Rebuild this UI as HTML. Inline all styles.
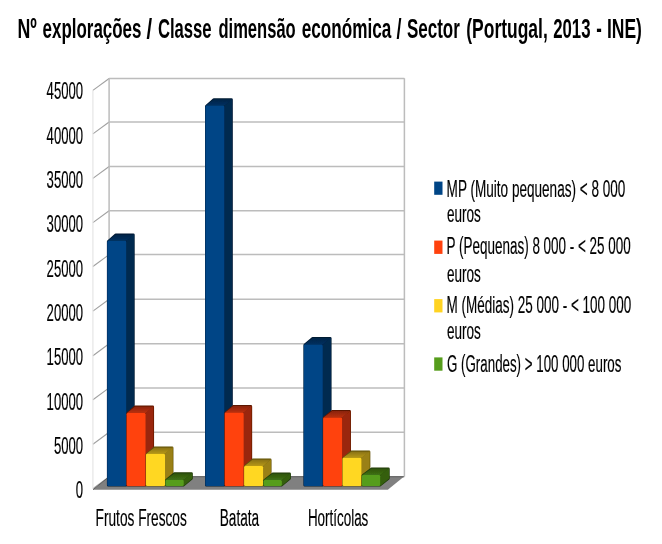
<!DOCTYPE html><html><head><meta charset="utf-8"><title>chart</title><style>html,body{margin:0;padding:0;background:#fff}svg{display:block}</style></head><body><svg width="662" height="544" viewBox="0 0 662 544">
<defs><linearGradient id="tb" x1="0" y1="1" x2="0" y2="0"><stop offset="0" stop-color="#003060"/><stop offset="1" stop-color="#002447"/></linearGradient><linearGradient id="to" x1="0" y1="1" x2="0" y2="0"><stop offset="0" stop-color="#b9300a"/><stop offset="1" stop-color="#8a2407"/></linearGradient><linearGradient id="ty" x1="0" y1="1" x2="0" y2="0"><stop offset="0" stop-color="#b79818"/><stop offset="1" stop-color="#887112"/></linearGradient><linearGradient id="tg" x1="0" y1="1" x2="0" y2="0"><stop offset="0" stop-color="#3f7113"/><stop offset="1" stop-color="#2f540e"/></linearGradient><filter id="b" x="-5%" y="-5%" width="110%" height="110%"><feGaussianBlur stdDeviation="0.55"/></filter><filter id="tb2" x="-2%" y="-10%" width="104%" height="120%"><feGaussianBlur stdDeviation="0.35"/></filter></defs>
<rect width="662" height="544" fill="#fff"/>
<g filter="url(#b)"><path d="M109.1 78.5 L404.4 78.5" fill="none" stroke="#bcbcbc" stroke-width="1.5"/><path d="M92.9 90.4 L109.1 78.5" fill="none" stroke="#a0a0a0" stroke-width="1.1"/><path d="M109.1 122.0 L404.4 122.0" fill="none" stroke="#bcbcbc" stroke-width="1.5"/><path d="M92.9 133.9 L109.1 122.0" fill="none" stroke="#a0a0a0" stroke-width="1.1"/><path d="M109.1 166.5 L404.4 166.5" fill="none" stroke="#bcbcbc" stroke-width="1.5"/><path d="M92.9 178.4 L109.1 166.5" fill="none" stroke="#a0a0a0" stroke-width="1.1"/><path d="M109.1 210.7 L404.4 210.7" fill="none" stroke="#bcbcbc" stroke-width="1.5"/><path d="M92.9 222.6 L109.1 210.7" fill="none" stroke="#a0a0a0" stroke-width="1.1"/><path d="M109.1 254.6 L404.4 254.6" fill="none" stroke="#bcbcbc" stroke-width="1.5"/><path d="M92.9 266.5 L109.1 254.6" fill="none" stroke="#a0a0a0" stroke-width="1.1"/><path d="M109.1 299.2 L404.4 299.2" fill="none" stroke="#bcbcbc" stroke-width="1.5"/><path d="M92.9 311.1 L109.1 299.2" fill="none" stroke="#a0a0a0" stroke-width="1.1"/><path d="M109.1 343.8 L404.4 343.8" fill="none" stroke="#bcbcbc" stroke-width="1.5"/><path d="M92.9 355.7 L109.1 343.8" fill="none" stroke="#a0a0a0" stroke-width="1.1"/><path d="M109.1 387.9 L404.4 387.9" fill="none" stroke="#bcbcbc" stroke-width="1.5"/><path d="M92.9 399.8 L109.1 387.9" fill="none" stroke="#a0a0a0" stroke-width="1.1"/><path d="M109.1 432.3 L404.4 432.3" fill="none" stroke="#bcbcbc" stroke-width="1.5"/><path d="M92.9 444.2 L109.1 432.3" fill="none" stroke="#a0a0a0" stroke-width="1.1"/><path d="M109.1 476.7 L404.4 476.7" fill="none" stroke="#bcbcbc" stroke-width="1.5"/><path d="M92.9 488.6 L109.1 476.7" fill="none" stroke="#a0a0a0" stroke-width="1.1"/><path d="M109.1 78.3 V476.7 M404.4 78.3 V476.7" fill="none" stroke="#bcbcbc" stroke-width="1.5"/><path d="M92.9 90.2 V488.6" fill="none" stroke="#e6e6e6" stroke-width="1.2"/><path d="M93.0 489.7 L109.1 476.7 L403.8 476.7 L387.8 489.7 Z" fill="#808080"/><path d="M93.0 489.7 L109.1 476.7 L403.8 476.7" fill="none" stroke="#555" stroke-width="0.9"/><path d="M108.20 485.20 L108.20 241.39 L115.79 234.70 L133.38 234.70 L133.38 478.51 L125.79 485.20 Z" fill="#001a33" stroke="#001a33" stroke-width="2.6" stroke-linejoin="round"/><path d="M126.28 240.80 L134.08 234.00 L134.08 478.60 L126.28 485.90 Z" fill="#002950"/><path d="M107.70 240.80 L115.80 234.40 L134.08 234.40 L126.28 240.80 Z" fill="url(#tb)"/><rect x="107.25" y="240.80" width="19.03" height="245.30" rx="1.3" fill="#004586"/><path d="M127.58 485.20 L127.58 413.49 L135.17 406.80 L152.76 406.80 L152.76 478.51 L145.17 485.20 Z" fill="#5c1704" stroke="#5c1704" stroke-width="2.6" stroke-linejoin="round"/><path d="M145.66 412.90 L153.46 406.10 L153.46 478.60 L145.66 485.90 Z" fill="#9a2808"/><path d="M127.08 412.90 L135.18 406.50 L153.46 406.50 L145.66 412.90 Z" fill="url(#to)"/><rect x="126.63" y="412.90" width="19.03" height="73.20" rx="1.3" fill="#ff420e"/><path d="M146.96 485.20 L146.96 454.39 L154.55 447.70 L172.14 447.70 L172.14 478.51 L164.55 485.20 Z" fill="#5e4e0b" stroke="#5e4e0b" stroke-width="2.6" stroke-linejoin="round"/><path d="M165.04 453.80 L172.84 447.00 L172.84 478.60 L165.04 485.90 Z" fill="#9a8013"/><path d="M146.46 453.80 L154.56 447.40 L172.84 447.40 L165.04 453.80 Z" fill="url(#ty)"/><rect x="146.01" y="453.80" width="19.03" height="32.30" rx="1.3" fill="#ffd720"/><path d="M166.34 485.20 L166.34 480.31 L174.51 473.60 L191.52 473.60 L191.52 478.49 L183.35 485.20 Z" fill="#1f3a09" stroke="#1f3a09" stroke-width="2.6" stroke-linejoin="round"/><path d="M183.82 479.70 L192.22 472.90 L192.22 478.60 L183.82 485.90 Z" fill="#345e10"/><path d="M165.84 479.70 L174.54 473.30 L192.22 473.30 L183.82 479.70 Z" fill="url(#tg)"/><rect x="165.39" y="479.70" width="18.43" height="6.40" rx="1.3" fill="#579d1c"/><path d="M206.30 485.20 L206.30 106.19 L213.89 99.50 L231.48 99.50 L231.48 478.51 L223.89 485.20 Z" fill="#001a33" stroke="#001a33" stroke-width="2.6" stroke-linejoin="round"/><path d="M224.38 105.60 L232.18 98.80 L232.18 478.60 L224.38 485.90 Z" fill="#002950"/><path d="M205.80 105.60 L213.90 99.20 L232.18 99.20 L224.38 105.60 Z" fill="url(#tb)"/><rect x="205.35" y="105.60" width="19.03" height="380.50" rx="1.3" fill="#004586"/><path d="M225.68 485.20 L225.68 413.09 L233.27 406.40 L250.86 406.40 L250.86 478.51 L243.27 485.20 Z" fill="#5c1704" stroke="#5c1704" stroke-width="2.6" stroke-linejoin="round"/><path d="M243.76 412.50 L251.56 405.70 L251.56 478.60 L243.76 485.90 Z" fill="#9a2808"/><path d="M225.18 412.50 L233.28 406.10 L251.56 406.10 L243.76 412.50 Z" fill="url(#to)"/><rect x="224.73" y="412.50" width="19.03" height="73.60" rx="1.3" fill="#ff420e"/><path d="M245.06 485.20 L245.06 466.59 L252.65 459.90 L270.24 459.90 L270.24 478.51 L262.65 485.20 Z" fill="#5e4e0b" stroke="#5e4e0b" stroke-width="2.6" stroke-linejoin="round"/><path d="M263.14 466.00 L270.94 459.20 L270.94 478.60 L263.14 485.90 Z" fill="#9a8013"/><path d="M244.56 466.00 L252.66 459.60 L270.94 459.60 L263.14 466.00 Z" fill="url(#ty)"/><rect x="244.11" y="466.00" width="19.03" height="20.10" rx="1.3" fill="#ffd720"/><path d="M264.44 485.20 L264.44 480.61 L272.61 473.90 L289.62 473.90 L289.62 478.49 L281.45 485.20 Z" fill="#1f3a09" stroke="#1f3a09" stroke-width="2.6" stroke-linejoin="round"/><path d="M281.92 480.00 L290.32 473.20 L290.32 478.60 L281.92 485.90 Z" fill="#345e10"/><path d="M263.94 480.00 L272.64 473.60 L290.32 473.60 L281.92 480.00 Z" fill="url(#tg)"/><rect x="263.49" y="480.00" width="18.43" height="6.10" rx="1.3" fill="#579d1c"/><path d="M304.70 485.20 L304.70 345.01 L312.67 338.30 L330.28 338.30 L330.28 478.49 L322.31 485.20 Z" fill="#001a33" stroke="#001a33" stroke-width="2.6" stroke-linejoin="round"/><path d="M322.78 344.40 L330.98 337.60 L330.98 478.60 L322.78 485.90 Z" fill="#002950"/><path d="M304.20 344.40 L312.70 338.00 L330.98 338.00 L322.78 344.40 Z" fill="url(#tb)"/><rect x="303.75" y="344.40" width="19.03" height="141.70" rx="1.3" fill="#004586"/><path d="M324.08 485.20 L324.08 418.11 L332.05 411.40 L349.66 411.40 L349.66 478.49 L341.69 485.20 Z" fill="#5c1704" stroke="#5c1704" stroke-width="2.6" stroke-linejoin="round"/><path d="M342.16 417.50 L350.36 410.70 L350.36 478.60 L342.16 485.90 Z" fill="#9a2808"/><path d="M323.58 417.50 L332.08 411.10 L350.36 411.10 L342.16 417.50 Z" fill="url(#to)"/><rect x="323.13" y="417.50" width="19.03" height="68.60" rx="1.3" fill="#ff420e"/><path d="M343.46 485.20 L343.46 458.41 L351.43 451.70 L369.04 451.70 L369.04 478.49 L361.07 485.20 Z" fill="#5e4e0b" stroke="#5e4e0b" stroke-width="2.6" stroke-linejoin="round"/><path d="M361.54 457.80 L369.74 451.00 L369.74 478.60 L361.54 485.90 Z" fill="#9a8013"/><path d="M342.96 457.80 L351.46 451.40 L369.74 451.40 L361.54 457.80 Z" fill="url(#ty)"/><rect x="342.51" y="457.80" width="19.03" height="28.30" rx="1.3" fill="#ffd720"/><path d="M362.84 485.20 L362.84 475.63 L371.39 468.90 L388.42 468.90 L388.42 478.47 L379.87 485.20 Z" fill="#1f3a09" stroke="#1f3a09" stroke-width="2.6" stroke-linejoin="round"/><path d="M380.32 475.00 L389.12 468.20 L389.12 478.60 L380.32 485.90 Z" fill="#345e10"/><path d="M362.34 475.00 L371.44 468.60 L389.12 468.60 L380.32 475.00 Z" fill="url(#tg)"/><rect x="361.89" y="475.00" width="18.43" height="11.10" rx="1.3" fill="#579d1c"/></g>
<g filter="url(#tb2)">
<text transform="translate(17.55 37.60) scale(0.6256 1)" font-family="Liberation Sans, sans-serif" font-size="28.4" font-weight="bold" fill="#000" stroke="#000" stroke-width="0" vector-effect="non-scaling-stroke">Nº</text>
<text transform="translate(42.56 37.60) scale(0.5966 1)" font-family="Liberation Sans, sans-serif" font-size="28.4" font-weight="bold" fill="#000" stroke="#000" stroke-width="0" vector-effect="non-scaling-stroke">explorações</text>
<text transform="translate(146.45 37.60) scale(0.7109 1)" font-family="Liberation Sans, sans-serif" font-size="28.4" font-weight="bold" fill="#000" stroke="#000" stroke-width="0" vector-effect="non-scaling-stroke">/</text>
<text transform="translate(157.93 37.60) scale(0.5869 1)" font-family="Liberation Sans, sans-serif" font-size="28.4" font-weight="bold" fill="#000" stroke="#000" stroke-width="0" vector-effect="non-scaling-stroke">Classe</text>
<text transform="translate(218.44 37.60) scale(0.5830 1)" font-family="Liberation Sans, sans-serif" font-size="28.4" font-weight="bold" fill="#000" stroke="#000" stroke-width="0" vector-effect="non-scaling-stroke">dimensão</text>
<text transform="translate(301.76 37.60) scale(0.6042 1)" font-family="Liberation Sans, sans-serif" font-size="28.4" font-weight="bold" fill="#000" stroke="#000" stroke-width="0" vector-effect="non-scaling-stroke">económica</text>
<text transform="translate(396.57 37.60) scale(0.6304 1)" font-family="Liberation Sans, sans-serif" font-size="28.4" font-weight="bold" fill="#000" stroke="#000" stroke-width="0" vector-effect="non-scaling-stroke">/</text>
<text transform="translate(406.93 37.60) scale(0.5987 1)" font-family="Liberation Sans, sans-serif" font-size="28.4" font-weight="bold" fill="#000" stroke="#000" stroke-width="0" vector-effect="non-scaling-stroke">Sector</text>
<text transform="translate(466.27 37.60) scale(0.6153 1)" font-family="Liberation Sans, sans-serif" font-size="28.4" font-weight="bold" fill="#000" stroke="#000" stroke-width="0" vector-effect="non-scaling-stroke">(Portugal,</text>
<text transform="translate(553.15 37.60) scale(0.5908 1)" font-family="Liberation Sans, sans-serif" font-size="28.4" font-weight="bold" fill="#000" stroke="#000" stroke-width="0" vector-effect="non-scaling-stroke">2013</text>
<text transform="translate(596.17 37.60) scale(0.5880 1)" font-family="Liberation Sans, sans-serif" font-size="28.4" font-weight="bold" fill="#000" stroke="#000" stroke-width="0" vector-effect="non-scaling-stroke">-</text>
<text transform="translate(606.96 37.60) scale(0.6156 1)" font-family="Liberation Sans, sans-serif" font-size="28.4" font-weight="bold" fill="#000" stroke="#000" stroke-width="0" vector-effect="non-scaling-stroke">INE)</text>
<text transform="translate(46.61 99.40) scale(0.5660 1)" font-family="Liberation Sans, sans-serif" font-size="23.2" font-weight="normal" fill="#000" stroke="#000" stroke-width="0.15" vector-effect="non-scaling-stroke">45000</text>
<text transform="translate(46.61 143.70) scale(0.5660 1)" font-family="Liberation Sans, sans-serif" font-size="23.2" font-weight="normal" fill="#000" stroke="#000" stroke-width="0.15" vector-effect="non-scaling-stroke">40000</text>
<text transform="translate(46.61 188.00) scale(0.5660 1)" font-family="Liberation Sans, sans-serif" font-size="23.2" font-weight="normal" fill="#000" stroke="#000" stroke-width="0.15" vector-effect="non-scaling-stroke">35000</text>
<text transform="translate(46.61 232.30) scale(0.5660 1)" font-family="Liberation Sans, sans-serif" font-size="23.2" font-weight="normal" fill="#000" stroke="#000" stroke-width="0.15" vector-effect="non-scaling-stroke">30000</text>
<text transform="translate(46.61 276.60) scale(0.5660 1)" font-family="Liberation Sans, sans-serif" font-size="23.2" font-weight="normal" fill="#000" stroke="#000" stroke-width="0.15" vector-effect="non-scaling-stroke">25000</text>
<text transform="translate(46.61 320.90) scale(0.5660 1)" font-family="Liberation Sans, sans-serif" font-size="23.2" font-weight="normal" fill="#000" stroke="#000" stroke-width="0.15" vector-effect="non-scaling-stroke">20000</text>
<text transform="translate(46.61 365.20) scale(0.5660 1)" font-family="Liberation Sans, sans-serif" font-size="23.2" font-weight="normal" fill="#000" stroke="#000" stroke-width="0.15" vector-effect="non-scaling-stroke">15000</text>
<text transform="translate(46.61 409.50) scale(0.5660 1)" font-family="Liberation Sans, sans-serif" font-size="23.2" font-weight="normal" fill="#000" stroke="#000" stroke-width="0.15" vector-effect="non-scaling-stroke">10000</text>
<text transform="translate(53.93 453.80) scale(0.5660 1)" font-family="Liberation Sans, sans-serif" font-size="23.2" font-weight="normal" fill="#000" stroke="#000" stroke-width="0.15" vector-effect="non-scaling-stroke">5000</text>
<text transform="translate(75.83 498.10) scale(0.5660 1)" font-family="Liberation Sans, sans-serif" font-size="23.2" font-weight="normal" fill="#000" stroke="#000" stroke-width="0.15" vector-effect="non-scaling-stroke">0</text>
<text transform="translate(95.58 525.80) scale(0.5822 1)" font-family="Liberation Sans, sans-serif" font-size="23.5" font-weight="normal" fill="#000" stroke="#000" stroke-width="0.15" vector-effect="non-scaling-stroke">Frutos Frescos</text>
<text transform="translate(219.78 525.80) scale(0.5802 1)" font-family="Liberation Sans, sans-serif" font-size="23.5" font-weight="normal" fill="#000" stroke="#000" stroke-width="0.15" vector-effect="non-scaling-stroke">Batata</text>
<text transform="translate(307.90 525.80) scale(0.5717 1)" font-family="Liberation Sans, sans-serif" font-size="23.5" font-weight="normal" fill="#000" stroke="#000" stroke-width="0.15" vector-effect="non-scaling-stroke">Hortícolas</text>
<rect x="434.2" y="181.6" width="8.3" height="13.2" fill="#004586"/>
<text transform="translate(446.59 196.55) scale(0.5776 1)" font-family="Liberation Sans, sans-serif" font-size="23.5" font-weight="normal" fill="#000" stroke="#000" stroke-width="0.15" vector-effect="non-scaling-stroke">MP (Muito pequenas) &lt; 8 000</text>
<text transform="translate(446.90 222.25) scale(0.5765 1)" font-family="Liberation Sans, sans-serif" font-size="23.5" font-weight="normal" fill="#000" stroke="#000" stroke-width="0.15" vector-effect="non-scaling-stroke">euros</text>
<rect x="434.2" y="240.6" width="8.3" height="13.3" fill="#ff420e"/>
<text transform="translate(446.60 254.35) scale(0.5729 1)" font-family="Liberation Sans, sans-serif" font-size="23.5" font-weight="normal" fill="#000" stroke="#000" stroke-width="0.15" vector-effect="non-scaling-stroke">P (Pequenas) 8 000 - &lt; 25 000</text>
<text transform="translate(446.90 281.75) scale(0.5765 1)" font-family="Liberation Sans, sans-serif" font-size="23.5" font-weight="normal" fill="#000" stroke="#000" stroke-width="0.15" vector-effect="non-scaling-stroke">euros</text>
<rect x="434.2" y="299.1" width="8.3" height="13.3" fill="#ffd320"/>
<text transform="translate(446.60 313.25) scale(0.5740 1)" font-family="Liberation Sans, sans-serif" font-size="23.5" font-weight="normal" fill="#000" stroke="#000" stroke-width="0.15" vector-effect="non-scaling-stroke">M (Médias) 25 000 - &lt; 100 000</text>
<text transform="translate(446.90 338.95) scale(0.5765 1)" font-family="Liberation Sans, sans-serif" font-size="23.5" font-weight="normal" fill="#000" stroke="#000" stroke-width="0.15" vector-effect="non-scaling-stroke">euros</text>
<rect x="434.2" y="357.4" width="8.3" height="13.3" fill="#579d1c"/>
<text transform="translate(447.01 372.25) scale(0.5672 1)" font-family="Liberation Sans, sans-serif" font-size="23.5" font-weight="normal" fill="#000" stroke="#000" stroke-width="0.15" vector-effect="non-scaling-stroke">G (Grandes) &gt; 100 000 euros</text>
</g>
</svg></body></html>
